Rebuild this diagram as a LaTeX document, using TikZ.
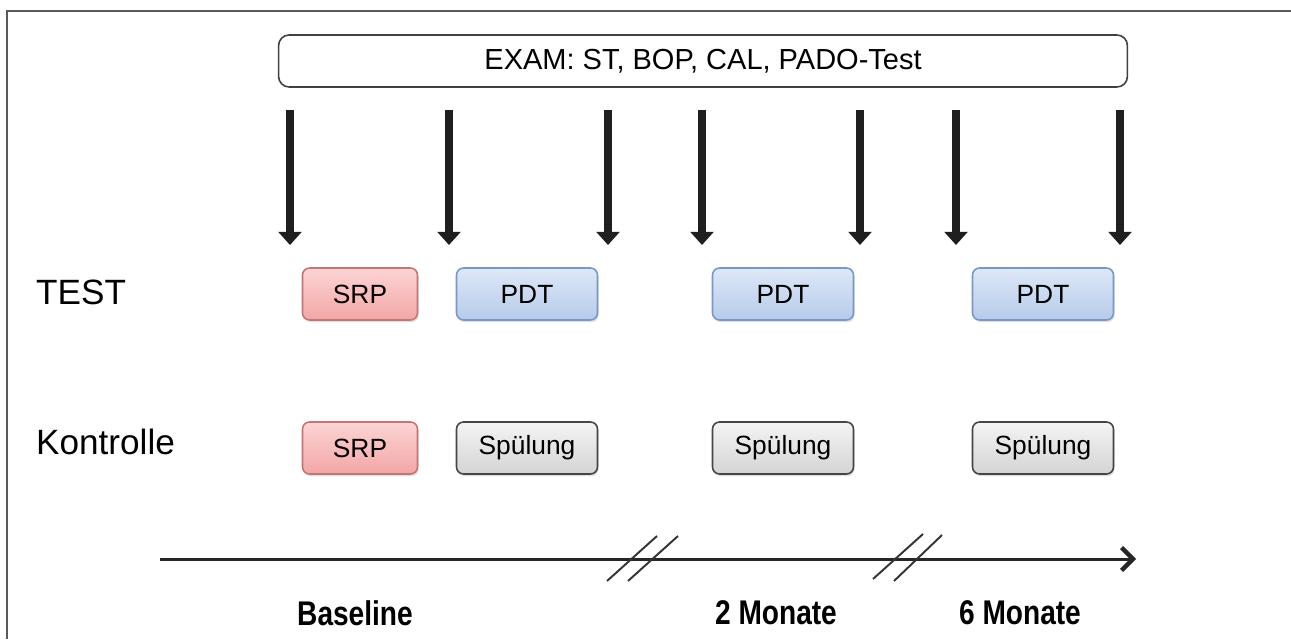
\documentclass[tikz,border=0pt]{standalone}
\usepackage{fontspec}
\setmainfont{Liberation Sans}
\usetikzlibrary{arrows.meta, positioning, shadows}
\definecolor{frameGray}{RGB}{90, 90, 90}
\definecolor{srpTop}{RGB}{252, 212, 212}
\definecolor{srpBottom}{RGB}{243, 166, 166}
\definecolor{srpEdge}{RGB}{196, 118, 118}
\definecolor{pdtTop}{RGB}{222, 232, 247}
\definecolor{pdtBottom}{RGB}{182, 203, 234}
\definecolor{pdtEdge}{RGB}{120, 152, 200}
\definecolor{rinseTop}{RGB}{244, 244, 244}
\definecolor{rinseBottom}{RGB}{212, 212, 212}
\definecolor{rinseEdge}{RGB}{70, 70, 70}
\tikzset{
    stepbox/.style={rounded corners=4pt, line width=0.9pt, minimum height=1.04cm,
        inner sep=0pt, font=\fontsize{15}{18}\selectfont,
        drop shadow={opacity=0.25, shadow xshift=0.6pt, shadow yshift=-1.2pt}},
    srp/.style={stepbox, minimum width=2.3cm, draw=srpEdge, top color=srpTop, bottom color=srpBottom},
    pdt/.style={stepbox, minimum width=2.82cm, draw=pdtEdge, top color=pdtTop, bottom color=pdtBottom},
    rinse/.style={stepbox, minimum width=2.82cm, draw=rinseEdge, top color=rinseTop, bottom color=rinseBottom},
    group/.style={anchor=west, font=\fontsize{20}{24}\selectfont},
    timelabel/.style={font=\fontsize{19.5}{23}\selectfont\bfseries, xscale=0.82, transform shape},
    examarrow/.style={line width=4.5pt, draw=black!88, -{Triangle[width=13pt, length=7.5pt]}},
    breakmark/.style={line width=1.1pt, draw=black!80}
}

\begin{document}
\begin{tikzpicture}[x=0.02cm, y=-0.02cm]
    % page size and frame
    \useasboundingbox (0,0) rectangle (1291,639);
    \draw[frameGray, line width=1.2pt] (7,639) -- (7,11) -- (1291,11);

    % exam box
    \node[draw=black!75, line width=0.9pt, rounded corners=6pt, minimum width=16.98cm,
          minimum height=1.04cm, font=\fontsize{16.5}{20}\selectfont] (exam) at (703,61)
          {EXAM: ST, BOP, CAL, PADO-Test};

    % exam arrows
    \foreach \x [count=\i] in {290, 449, 608, 702, 860, 956, 1120} {
        \coordinate (top\i) at (\x,110);
        \coordinate (tip\i) at (\x,245);
        \draw[examarrow] (top\i) -- (tip\i);
    }

    % groups
    \node[group] (test) at (30,292) {TEST};
    \node[group] (ctrl) at (30,442) {Kontrolle};

    % test group
    \node[srp] (srpA) at (360,294) {SRP};
    \node[pdt] (pdtA) at (527,294) {PDT};
    \node[pdt] (pdtB) at (783,294) {PDT};
    \node[pdt] (pdtC) at (1043,294) {PDT};

    % control group
    \node[srp] (srpB) at (360,448) {SRP};
    \node[rinse] (rinseA) at (527,448) {Spülung};
    \node[rinse] (rinseB) at (783,448) {Spülung};
    \node[rinse] (rinseC) at (1043,448) {Spülung};

    % time line
    \coordinate (tStart) at (160,559);
    \coordinate (tEnd) at (1136,559);
    \draw[line width=1.7pt, black!85, -{Straight Barb[length=6.5pt, width=13pt, line width=2.5pt]}] (tStart) -- (tEnd);
    \draw[breakmark] (607,581) -- (657,536);
    \draw[breakmark] (628,581) -- (678,536);
    \draw[breakmark] (873,579) -- (923,534);
    \draw[breakmark] (894,581) -- (942,535);

    % time points
    \node[timelabel] (base) at (355,613) {Baseline};
    \node[timelabel] (twoM) at (776,613) {2 Monate};
    \node[timelabel] (sixM) at (1020,613) {6 Monate};
\end{tikzpicture}
\end{document}
